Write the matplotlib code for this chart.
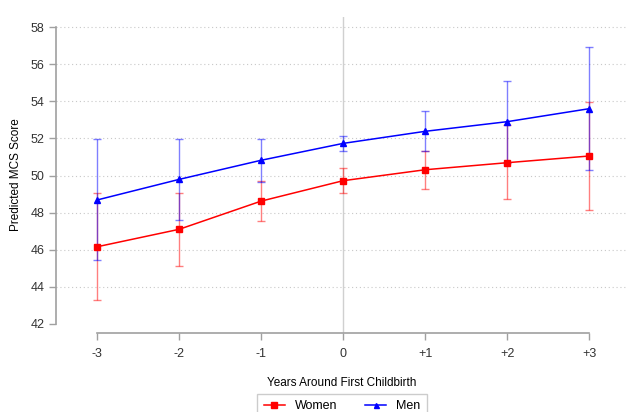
import numpy as np
import matplotlib
matplotlib.use("Agg")
import matplotlib.pyplot as plt

plt.rcParams["font.family"] = ["Liberation Sans", "DejaVu Sans"]

# data
years = [-3, -2, -1, 0, 1, 2, 3]
year_labels = ["-3", "-2", "-1", "0", "+1", "+2", "+3"]

women_mean = [46.16, 47.10, 48.62, 49.72, 50.31, 50.69, 51.05]
women_lo = [43.29, 45.14, 47.57, 49.04, 49.29, 48.72, 48.12]
women_hi = [49.07, 49.07, 49.70, 50.40, 51.32, 52.72, 53.98]

men_mean = [48.68, 49.79, 50.82, 51.73, 52.38, 52.90, 53.60]
men_lo = [45.43, 47.62, 49.67, 51.32, 51.32, 50.70, 50.30]
men_hi = [51.95, 51.95, 51.95, 52.14, 53.46, 55.07, 56.90]

y_ticks = [42, 44, 46, 48, 50, 52, 54, 56, 58]

axis_grey = "#a0a0a0"

fig = plt.figure(figsize=(6.27, 4.12), dpi=100)
ax = fig.add_axes([56 / 627, 79 / 412, 1 - 56 / 627, 316 / 412])

# grid (dotted) and reference line at 0
for t in y_ticks[1:]:
    ax.axhline(t, color="#c8c8c8", linestyle=(0, (1, 2.5)), linewidth=0.8, zorder=0)
ax.axvline(0, color="#d0d0d0", linewidth=1.0, zorder=0)

x = np.array(years)

def draw_series(mean, lo, hi, color, marker, ms, label):
    mean = np.array(mean)
    yerr = [mean - np.array(lo), np.array(hi) - mean]
    ax.errorbar(x, mean, yerr=yerr, fmt="none", ecolor=color, elinewidth=1.0,
                capsize=3, capthick=1.0, alpha=0.5, zorder=2)
    ax.plot(x, mean, color=color, linewidth=1.1, marker=marker, markersize=ms,
            label=label, zorder=3)

draw_series(women_mean, women_lo, women_hi, "#ff0000", "s", 4.5, "Women")
draw_series(men_mean, men_lo, men_hi, "#0000ff", "^", 4, "Men")

ax.set_xlim(-3.5, 3.46)
ax.set_ylim(42 - 9 / 18.56, 58 + 10 / 18.56)

ax.set_xticks(years)
ax.set_xticklabels(year_labels)
ax.set_yticks(y_ticks)

for s in ["top", "right"]:
    ax.spines[s].set_visible(False)
ax.spines["left"].set_bounds(42, 58)
ax.spines["bottom"].set_bounds(-3, 3)
for s in ["left", "bottom"]:
    ax.spines[s].set_color(axis_grey)
    ax.spines[s].set_linewidth(1.2)

ax.tick_params(axis="both", colors=axis_grey, labelcolor="#333333", labelsize=9,
               length=5, width=1.0)
ax.tick_params(axis="x", pad=6)

ax.set_ylabel("Predicted MCS Score", fontsize=8.5, labelpad=6)
ax.set_xlabel("Years Around First Childbirth", fontsize=8.5, labelpad=12)

leg = fig.legend(loc="upper center", bbox_to_anchor=(342 / 627, 1 - 394 / 412),
                 ncol=2, fontsize=9, frameon=True, fancybox=False,
                 borderaxespad=0, handlelength=1.7, handletextpad=0.8,
                 columnspacing=2.2, borderpad=0.5, markerscale=0.9)
leg.get_frame().set_edgecolor("#c0c0c0")
leg.get_frame().set_linewidth(1.0)

fig.savefig("out.png", dpi=100)
